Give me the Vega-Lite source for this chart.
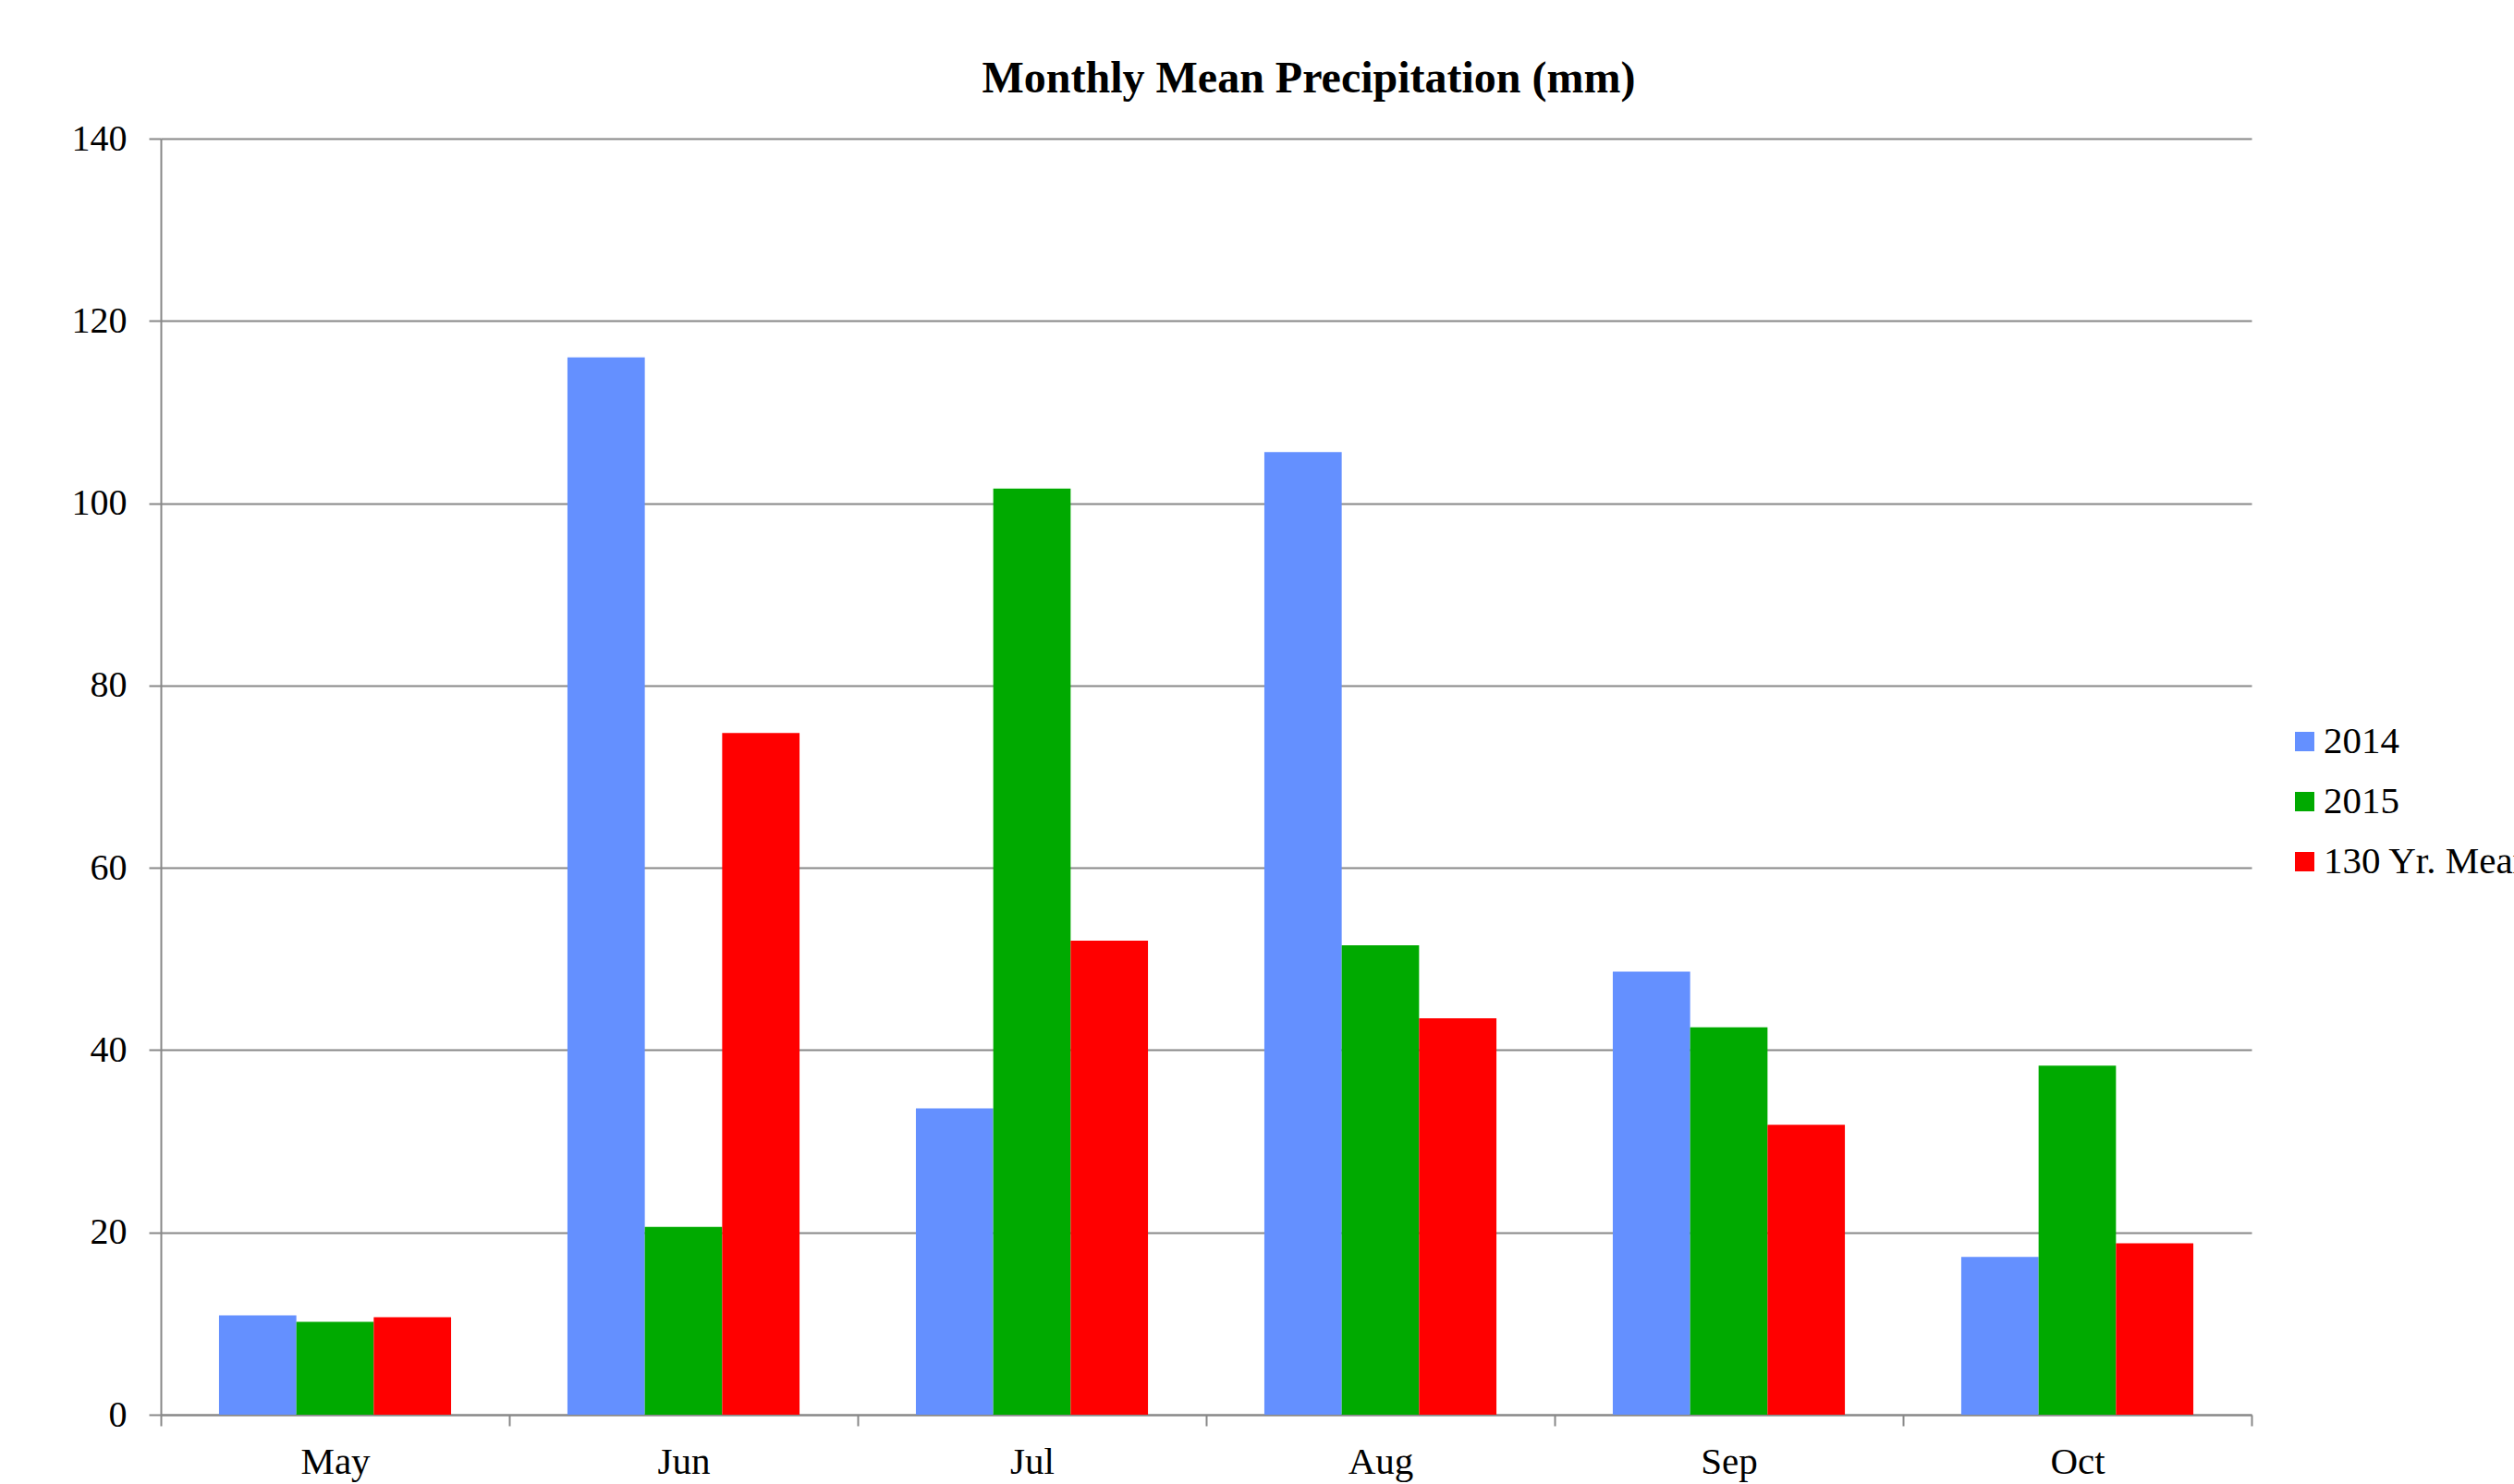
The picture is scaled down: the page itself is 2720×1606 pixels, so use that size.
{
  "$schema": "https://vega.github.io/schema/vega-lite/v6.json",
  "autosize": {"type": "none"},
  "padding": {"left": 174, "top": 150, "right": 284, "bottom": 75},
  "width": 2262,
  "height": 1381,
  "background": "white",
  "title": {
    "text": "Monthly Mean Precipitation (mm)",
    "font": "Liberation Serif",
    "fontSize": 48,
    "fontWeight": "bold",
    "color": "black",
    "anchor": "middle",
    "frame": "group",
    "dx": 111,
    "offset": 20
  },
  "data": {
    "values": [
      {"month": "May", "series": "2014", "value": 10.9},
      {"month": "May", "series": "2015", "value": 10.2},
      {"month": "May", "series": "130 Yr. Mean", "value": 10.7},
      {"month": "Jun", "series": "2014", "value": 116.0},
      {"month": "Jun", "series": "2015", "value": 20.6},
      {"month": "Jun", "series": "130 Yr. Mean", "value": 74.8},
      {"month": "Jul", "series": "2014", "value": 33.6},
      {"month": "Jul", "series": "2015", "value": 101.6},
      {"month": "Jul", "series": "130 Yr. Mean", "value": 52.0},
      {"month": "Aug", "series": "2014", "value": 105.6},
      {"month": "Aug", "series": "2015", "value": 51.5},
      {"month": "Aug", "series": "130 Yr. Mean", "value": 43.5},
      {"month": "Sep", "series": "2014", "value": 48.6},
      {"month": "Sep", "series": "2015", "value": 42.5},
      {"month": "Sep", "series": "130 Yr. Mean", "value": 31.8},
      {"month": "Oct", "series": "2014", "value": 17.3},
      {"month": "Oct", "series": "2015", "value": 38.3},
      {"month": "Oct", "series": "130 Yr. Mean", "value": 18.8}
    ]
  },
  "mark": {"type": "bar"},
  "encoding": {
    "x": {
      "field": "month",
      "type": "nominal",
      "sort": ["May", "Jun", "Jul", "Aug", "Sep", "Oct"],
      "scale": {"paddingInner": 0, "paddingOuter": 0},
      "axis": {
        "title": null,
        "labelAngle": 0,
        "tickBand": "extent",
        "domainColor": "#888888",
        "domainWidth": 2,
        "tickColor": "#888888",
        "tickWidth": 2,
        "tickSize": 12,
        "labelFont": "Liberation Serif",
        "labelFontSize": 41,
        "labelColor": "black",
        "labelPadding": 19
      }
    },
    "xOffset": {
      "field": "series",
      "type": "nominal",
      "sort": ["2014", "2015", "130 Yr. Mean"],
      "scale": {"paddingInner": 0, "paddingOuter": 0.752}
    },
    "y": {
      "field": "value",
      "type": "quantitative",
      "scale": {"domain": [0, 140], "nice": false},
      "axis": {
        "title": null,
        "values": [0, 20, 40, 60, 80, 100, 120, 140],
        "grid": true,
        "gridColor": "#888888",
        "gridWidth": 2,
        "domainColor": "#888888",
        "domainWidth": 2,
        "tickColor": "#888888",
        "tickWidth": 2,
        "tickSize": 13,
        "labelFont": "Liberation Serif",
        "labelFontSize": 40,
        "labelColor": "black",
        "labelPadding": 24
      }
    },
    "color": {
      "field": "series",
      "type": "nominal",
      "sort": ["2014", "2015", "130 Yr. Mean"],
      "scale": {
        "domain": ["2014", "2015", "130 Yr. Mean"],
        "range": ["#6490FF", "#00AA00", "#FF0000"]
      },
      "legend": {
        "title": null,
        "orient": "none",
        "legendX": 2299,
        "legendY": 632,
        "padding": 0,
        "symbolType": "square",
        "symbolSize": 441,
        "symbolStrokeWidth": 0,
        "labelFont": "Liberation Serif",
        "labelFontSize": 41,
        "labelColor": "black",
        "labelOffset": 0,
        "rowPadding": 23,
        "labelLimit": 1000
      }
    }
  },
  "config": {"view": {"stroke": null}}
}
